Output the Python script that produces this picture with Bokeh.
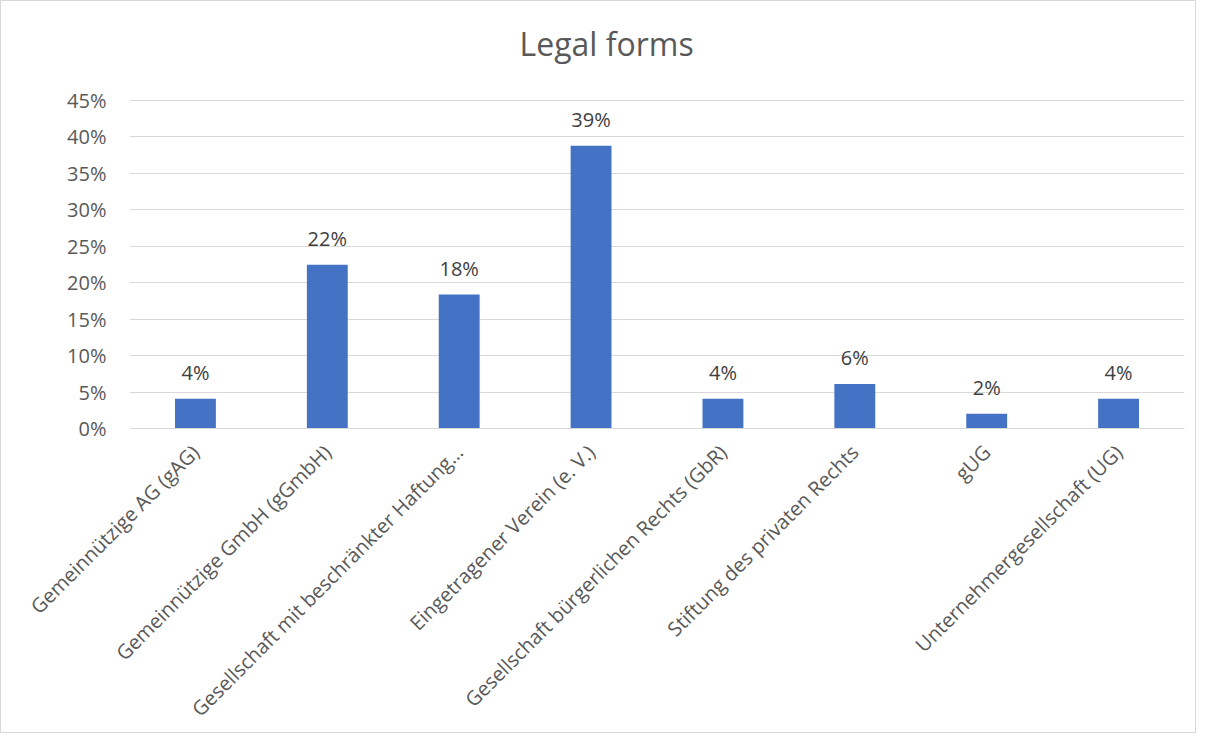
import math
from bokeh.plotting import figure
from bokeh.models import ColumnDataSource, NumeralTickFormatter, Range1d, FixedTicker, Title
from bokeh.core.properties import value
from bokeh.embed import file_html
from bokeh.resources import INLINE

categories = [
    "Gemeinnützige AG (gAG)",
    "Gemeinnützige GmbH (gGmbH)",
    "Gesellschaft mit beschränkter Haftung…",
    "Eingetragener Verein (e. V.)",
    "Gesellschaft bürgerlichen Rechts (GbR)",
    "Stiftung des privaten Rechts",
    "gUG",
    "Unternehmergesellschaft (UG)",
]
shares = [0.0408, 0.2245, 0.1837, 0.3878, 0.0408, 0.0612, 0.0204, 0.0408]
share_labels = [f"{round(v * 100)}%" for v in shares]
y_ticks = [0, 0.05, 0.10, 0.15, 0.20, 0.25, 0.30, 0.35, 0.40, 0.45]

FONT = "Open Sans"
GRAY = "#595959"

src = ColumnDataSource(dict(cat=categories, val=shares, lab=share_labels))

p = figure(
    x_range=categories,
    y_range=Range1d(0, 0.4747),
    width=1196, height=733,
    output_backend="svg", toolbar_location=None,
    min_border_left=128, min_border_right=13,
    min_border_top=0, min_border_bottom=305,
)
p.title = None
t = Title(text="Legal forms", align="left", offset=390, standoff=36,
          text_font=FONT, text_font_size="32px", text_color=GRAY,
          text_font_style="normal")
p.add_layout(t, "above")

p.vbar(x="cat", top="val", width=0.31, source=src, color="#4472C4", line_color=None)
p.text(x="cat", y="val", text="lab", source=src, y_offset=-13,
       text_align="center", text_baseline="bottom",
       text_font=value(FONT), text_font_size="20px", text_color="#404040")

p.outline_line_color = None
p.xgrid.grid_line_color = None
p.ygrid.grid_line_color = "#d9d9d9"
p.ygrid.grid_line_width = 1
p.yaxis.ticker = FixedTicker(ticks=y_ticks)
p.yaxis.formatter = NumeralTickFormatter(format="0%")
p.yaxis.axis_line_color = None
p.yaxis.major_tick_line_color = None
p.yaxis.minor_tick_line_color = None
p.yaxis.major_tick_out = 0
p.yaxis.major_label_standoff = 23
p.xaxis.axis_line_color = "#d9d9d9"
p.xaxis.major_tick_line_color = None
p.xaxis.minor_tick_line_color = None
p.xaxis.major_tick_out = 0
p.xaxis.major_label_standoff = 20
p.xaxis.major_label_orientation = math.pi / 4
for ax in (p.xaxis, p.yaxis):
    ax.major_label_text_font = FONT
    ax.major_label_text_font_size = "20px"
    ax.major_label_text_color = GRAY
p.x_range.range_padding = 0
p.styles = {"border": "1px solid #d9d9d9", "box-sizing": "border-box"}

open("out.html", "w").write(file_html(p, INLINE))
